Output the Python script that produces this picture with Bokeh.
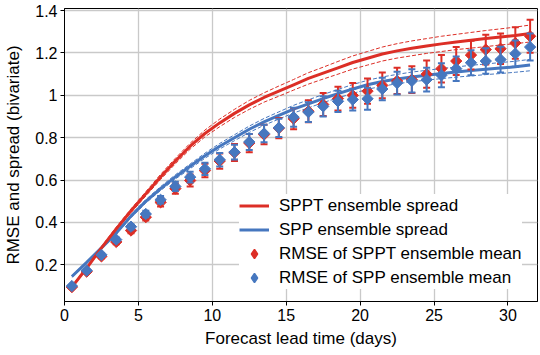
from bokeh.plotting import figure
from bokeh.models import Range1d, FixedTicker, Legend, LegendItem
from bokeh.embed import file_html
from bokeh.resources import INLINE

# ---- data ----
lead = [0.5, 1.5, 2.5, 3.5, 4.5, 5.5, 6.5, 7.5, 8.5, 9.5, 10.5, 11.5, 12.5, 13.5, 14.5, 15.5,
        16.5, 17.5, 18.5, 19.5, 20.5, 21.5, 22.5, 23.5, 24.5, 25.5, 26.5, 27.5, 28.5, 29.5, 30.5, 31.5]

sppt_spread = [0.095, 0.185, 0.28, 0.37, 0.455, 0.535, 0.615, 0.69, 0.76, 0.82, 0.87, 0.915,
               0.955, 0.99, 1.02, 1.05, 1.08, 1.105, 1.13, 1.155, 1.175, 1.195, 1.21, 1.222,
               1.233, 1.243, 1.252, 1.26, 1.268, 1.276, 1.283, 1.292]
sppt_spread_ci = [0.004, 0.005, 0.006, 0.008, 0.009, 0.01, 0.012, 0.013, 0.014, 0.016, 0.018, 0.019,
                  0.021, 0.022, 0.024, 0.025, 0.027, 0.028, 0.03, 0.031, 0.032, 0.033, 0.034, 0.035,
                  0.035, 0.036, 0.036, 0.037, 0.038, 0.038, 0.039, 0.04]

spp_spread = [0.145, 0.212, 0.28, 0.35, 0.43, 0.5, 0.56, 0.615, 0.665, 0.715, 0.76, 0.8,
              0.84, 0.875, 0.905, 0.935, 0.96, 0.985, 1.008, 1.03, 1.05, 1.065, 1.077, 1.087,
              1.095, 1.103, 1.11, 1.117, 1.123, 1.129, 1.135, 1.143]
spp_spread_ci = [0.004, 0.004, 0.005, 0.006, 0.007, 0.008, 0.009, 0.01, 0.011, 0.012, 0.013, 0.014,
                 0.015, 0.016, 0.017, 0.018, 0.019, 0.019, 0.02, 0.021, 0.021, 0.022, 0.022, 0.023,
                 0.023, 0.024, 0.024, 0.025, 0.025, 0.026, 0.026, 0.027]

sppt_rmse = [0.095, 0.168, 0.24, 0.308, 0.362, 0.425, 0.495, 0.56, 0.598, 0.645, 0.69, 0.73,
             0.775, 0.815, 0.845, 0.89, 0.925, 0.957, 0.985, 1.0, 1.02, 1.047, 1.068, 1.074,
             1.1, 1.126, 1.162, 1.19, 1.216, 1.22, 1.247, 1.279]
sppt_rmse_err = [0.005, 0.007, 0.009, 0.011, 0.013, 0.016, 0.02, 0.024, 0.028, 0.032, 0.036, 0.04,
                 0.043, 0.046, 0.048, 0.05, 0.052, 0.054, 0.056, 0.058, 0.06, 0.061, 0.062, 0.063,
                 0.064, 0.065, 0.066, 0.068, 0.07, 0.072, 0.074, 0.078]

spp_rmse = [0.1, 0.173, 0.247, 0.319, 0.38, 0.44, 0.507, 0.57, 0.614, 0.653, 0.696, 0.732,
            0.78, 0.82, 0.847, 0.897, 0.921, 0.948, 0.972, 0.98, 0.984, 1.03, 1.058, 1.068,
            1.074, 1.095, 1.126, 1.154, 1.162, 1.169, 1.197, 1.228]
spp_rmse_err = [0.005, 0.006, 0.008, 0.01, 0.012, 0.015, 0.018, 0.022, 0.025, 0.029, 0.032, 0.035,
                0.038, 0.041, 0.043, 0.045, 0.047, 0.048, 0.05, 0.051, 0.052, 0.053, 0.054, 0.055,
                0.056, 0.057, 0.058, 0.059, 0.06, 0.061, 0.062, 0.064]

x_ticks = [0, 5, 10, 15, 20, 25, 30]
y_ticks = [0.2, 0.4, 0.6, 0.8, 1.0, 1.2, 1.4]
y_tick_labels = ["0.2", "0.4", "0.6", "0.8", "1", "1.2", "1.4"]

RED = "#dc2e26"
BLUE = "#4677bf"
FONT = "Liberation Sans"

p = figure(width=540, height=355, output_backend="svg", toolbar_location=None,
           x_range=Range1d(0, 32), y_range=Range1d(0.027, 1.41),
           min_border_left=64, min_border_right=3, min_border_top=8, min_border_bottom=54)

p.outline_line_color = "black"
p.outline_line_width = 1
p.background_fill_color = "white"
p.border_fill_color = "white"

for g in (p.xgrid[0], p.ygrid[0]):
    g.grid_line_color = "#c9c9c9"
    g.grid_line_width = 1.3
p.xgrid[0].ticker = FixedTicker(ticks=x_ticks)
p.ygrid[0].ticker = FixedTicker(ticks=y_ticks)

xa = p.xaxis[0]
ya = p.yaxis[0]
xa.ticker = FixedTicker(ticks=x_ticks)
ya.ticker = FixedTicker(ticks=y_ticks)
ya.major_label_overrides = {t: l for t, l in zip(y_ticks, y_tick_labels)}
for ax in (xa, ya):
    ax.axis_line_color = "black"
    ax.major_tick_line_color = "black"
    ax.major_tick_in = 0
    ax.major_tick_out = 4
    ax.minor_tick_line_color = None
    ax.major_label_text_font = FONT
    ax.major_label_text_font_size = "16px"
    ax.major_label_text_color = "black"
    ax.major_label_standoff = 3
    ax.axis_label_text_font = FONT
    ax.axis_label_text_font_size = "17px"
    ax.axis_label_text_font_style = "normal"
    ax.axis_label_text_color = "black"
xa.axis_label = "Forecast lead time (days)"
ya.axis_label = "RMSE and spread (bivariate)"
xa.axis_label_standoff = 5
ya.axis_label_standoff = 9

# spread bands and lines
def band(vals, ci, sign):
    return [v + sign * c for v, c in zip(vals, ci)]

for vals, ci, col in ((spp_spread, spp_spread_ci, BLUE), (sppt_spread, sppt_spread_ci, RED)):
    p.line(lead, band(vals, ci, 1), line_color=col, line_width=1, line_dash="4 2")
    p.line(lead, band(vals, ci, -1), line_color=col, line_width=1, line_dash="4 2")

r_spp_line = p.line(lead, spp_spread, line_color=BLUE, line_width=3)
r_sppt_line = p.line(lead, sppt_spread, line_color=RED, line_width=3)

# RMSE points with error bars
def points(vals, err, col):
    up = [v + e for v, e in zip(vals, err)]
    lo = [v - e for v, e in zip(vals, err)]
    p.segment(x0=lead, y0=lo, x1=lead, y1=up, line_color=col, line_width=2)
    p.scatter(lead, up, marker="dash", size=7, line_color=col, line_width=2)
    p.scatter(lead, lo, marker="dash", size=7, line_color=col, line_width=2)
    p.scatter(lead, vals, marker="square", angle=0.785398, size=8,
              fill_color=col, line_color=col, line_width=1)
    # legend proxy (legend glyphs are never rotated, so use a diamond marker)
    return p.scatter([float("nan")], [float("nan")], marker="diamond",
                     fill_color=col, line_color=col, line_width=1.5)

r_sppt_pts = points(sppt_rmse, sppt_rmse_err, RED)
r_spp_pts = points(spp_rmse, spp_rmse_err, BLUE)

legend = Legend(items=[
    LegendItem(label="SPPT ensemble spread", renderers=[r_sppt_line]),
    LegendItem(label="SPP ensemble spread", renderers=[r_spp_line]),
    LegendItem(label="RMSE of SPPT ensemble mean", renderers=[r_sppt_pts]),
    LegendItem(label="RMSE of SPP ensemble mean", renderers=[r_spp_pts]),
], location=(175, 12))
legend.border_line_color = None
legend.background_fill_color = "white"
legend.background_fill_alpha = 1.0
legend.label_text_font = FONT
legend.label_text_font_size = "17px"
legend.label_text_color = "black"
legend.glyph_width = 30
legend.label_standoff = 10
legend.padding = 4
legend.spacing = 1
legend.label_height = 23
legend.glyph_height = 23
legend.margin = 0
p.add_layout(legend, "center")

open("out.html", "w").write(file_html(p, INLINE))
